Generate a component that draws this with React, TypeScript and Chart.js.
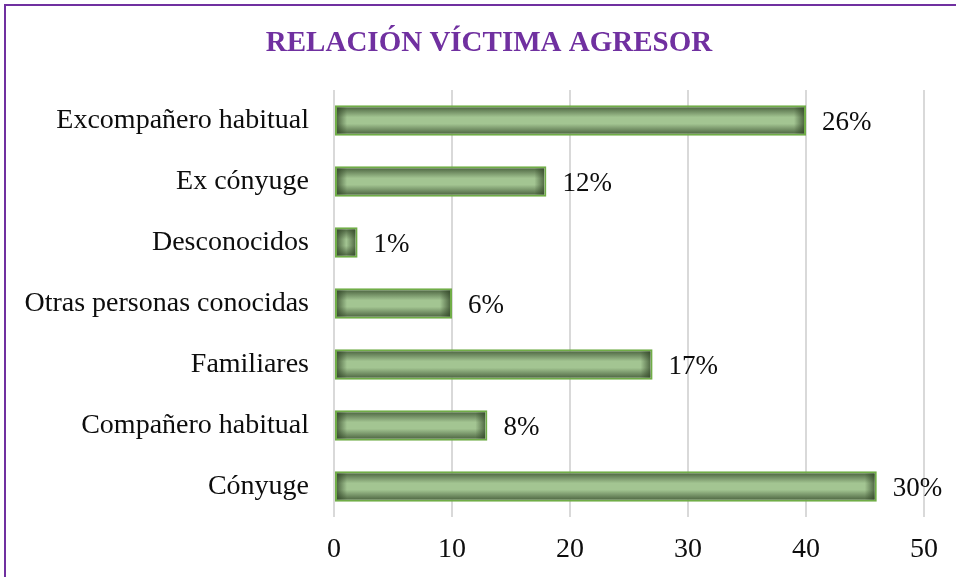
import React, { useEffect, useRef } from "react";
import { Chart, registerables } from "chart.js";

Chart.register(...registerables);

const categories = [
  "Excompañero habitual",
  "Ex cónyuge",
  "Desconocidos",
  "Otras personas conocidas",
  "Familiares",
  "Compañero habitual",
  "Cónyuge",
];
const values = [40, 18, 2, 10, 27, 13, 46];
const percentLabels = ["26%", "12%", "1%", "6%", "17%", "8%", "30%"];
const xTicks = [0, 10, 20, 30, 40, 50];
const titleText = "RELACIÓN VÍCTIMA AGRESOR";

const FONT = "'Liberation Serif', 'Times New Roman', serif";

const overlayPlugin = {
  id: "overlay",
  afterDatasetsDraw(chart: any) {
    const ctx = chart.ctx;
    const meta = chart.getDatasetMeta(0);
    meta.data.forEach((bar: any, i: number) => {
      const { x, y, base, height } = bar.getProps(["x", "y", "base", "height"], true);
      const bw = 2;
      const left = Math.min(x, base) + bw;
      const right = Math.max(x, base) - bw;
      const top = y - height / 2 + bw;
      const bottom = y + height / 2 - bw;
      const w = right - left;
      const h = bottom - top;
      if (w > 0 && h > 0) {
        ctx.save();
        ctx.beginPath();
        ctx.rect(left, top, w, h);
        ctx.clip();
        const dark = "rgba(45,65,35,0.7)";
        const clear = "rgba(45,65,35,0)";
        const d = Math.min(10, h / 2);
        let g = ctx.createLinearGradient(0, top, 0, top + d);
        g.addColorStop(0, dark);
        g.addColorStop(1, clear);
        ctx.fillStyle = g;
        ctx.fillRect(left, top, w, d);
        g = ctx.createLinearGradient(0, bottom, 0, bottom - d);
        g.addColorStop(0, dark);
        g.addColorStop(1, clear);
        ctx.fillStyle = g;
        ctx.fillRect(left, bottom - d, w, d);
        const dx = Math.min(10, w / 2);
        g = ctx.createLinearGradient(left, 0, left + dx, 0);
        g.addColorStop(0, dark);
        g.addColorStop(1, clear);
        ctx.fillStyle = g;
        ctx.fillRect(left, top, dx, h);
        g = ctx.createLinearGradient(right, 0, right - dx, 0);
        g.addColorStop(0, dark);
        g.addColorStop(1, clear);
        ctx.fillStyle = g;
        ctx.fillRect(right - dx, top, dx, h);
        ctx.restore();
      }
      ctx.save();
      ctx.font = `27px ${FONT}`;
      ctx.fillStyle = "#0d0d0d";
      ctx.textAlign = "left";
      ctx.textBaseline = "middle";
      ctx.fillText(percentLabels[i], Math.max(x, base) + 16, y + 2);
      ctx.restore();
    });
    ctx.save();
    ctx.font = `bold 29px ${FONT}`;
    ctx.fillStyle = "#7030a0";
    ctx.textAlign = "center";
    ctx.textBaseline = "middle";
    ctx.fillText(titleText, 489, 44);
    ctx.restore();
  },
};

export default function App() {
  const ref = useRef<HTMLCanvasElement | null>(null);
  useEffect(() => {
    if (!ref.current) return;
    const chart = new Chart(ref.current, {
      type: "bar",
      data: {
        labels: categories,
        datasets: [
          {
            data: values,
            backgroundColor: "#a3c592",
            borderColor: "#70ad47",
            borderWidth: 2,
            borderSkipped: false,
            categoryPercentage: 1,
            barPercentage: 0.5,
          },
        ],
      },
      options: {
        indexAxis: "y",
        animation: false,
        responsive: false,
        maintainAspectRatio: false,
        layout: { padding: { top: 90, right: 32, left: 0, bottom: 0 } },
        plugins: {
          legend: { display: false },
          title: { display: false },
          tooltip: { enabled: false },
        },
        scales: {
          x: {
            min: 0,
            max: 50,
            afterBuildTicks: (scale: any) => {
              scale.ticks = xTicks.map((v) => ({ value: v }));
            },
            afterFit: (scale: any) => {
              scale.height = 60;
            },
            grid: { color: "#d9d9d9", lineWidth: 2, drawTicks: false },
            border: { display: false },
            ticks: {
              padding: 16,
              color: "#0d0d0d",
              font: { family: FONT, size: 28 },
            },
          },
          y: {
            afterFit: (scale: any) => {
              scale.width = 334;
            },
            grid: { display: false, drawTicks: false },
            border: { display: false },
            ticks: {
              padding: 25,
              color: "#0d0d0d",
              font: { family: FONT, size: 28 },
            },
          },
        },
      },
      plugins: [overlayPlugin],
    } as any);
    return () => chart.destroy();
  }, []);
  return (
    <div
      style={{
        position: "fixed",
        left: 0,
        top: 0,
        width: 956,
        height: 577,
        overflow: "hidden",
        background: "#ffffff",
      }}
    >
      <div
        style={{
          position: "absolute",
          left: 4,
          top: 4,
          width: 1000,
          height: 700,
          border: "2px solid #7030a0",
        }}
      />
      <canvas
        ref={ref}
        width={956}
        height={577}
        style={{ position: "absolute", left: 0, top: 0, width: 956, height: 577 }}
      />
    </div>
  );
}
